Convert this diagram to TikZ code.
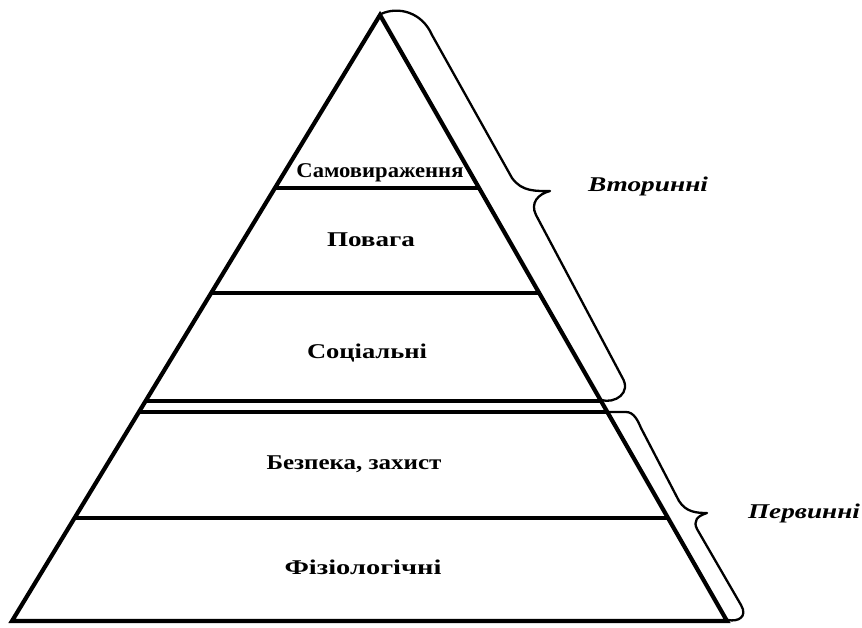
\documentclass[tikz,border=0pt]{standalone}
\usepackage{fontspec}
\setmainfont{Liberation Serif}
\usetikzlibrary{calc}
\newcommand{\fitw}[2]{\resizebox{#1}{\height}{#2}}
\begin{document}
\begin{tikzpicture}[x=1pt,y=-1pt,
  side/.style={line width=4.2pt, line join=miter},
  level/.style={line width=3.3pt},
  brace/.style={line width=2.3pt, line join=round, line cap=round},
  lab/.style={font=\fontsize{21}{24}\selectfont\bfseries, inner sep=0, anchor=base},
  sidelab/.style={font=\fontsize{21}{24}\selectfont\bfseries\itshape, inner sep=0, anchor=base}]
\useasboundingbox (0,0) rectangle (862,628);
\coordinate (A) at (380,15);
\coordinate (L) at (12,621);
\coordinate (R) at (727,621);
% levels
\foreach \t in {0.2855,0.4587,0.637,0.655,0.830}
  \draw[level] ($(A)!\t!(L)$) -- ($(A)!\t!(R)$);
\draw[side] (L) -- (A) -- (R) -- cycle;
% upper brace
\coordinate (ub0) at (381,14);
\coordinate (ub1) at (432,35);
\coordinate (ub2) at (512,178);
\coordinate (ubt) at (550,191);
\coordinate (ub3) at (536,215);
\coordinate (ub4) at (622,377);
\coordinate (ub5) at (601,400);
\draw[brace] (ub0) .. controls (398,6) and (422,12) .. (ub1) -- (ub2)
  .. controls (522,192) and (536,191) .. (ubt)
  .. controls (538,194) and (530,203) .. (ub3) -- (ub4)
  .. controls (632,393) and (615,404) .. (ub5);
% lower brace
\coordinate (lb0) at (603,412);
\coordinate (lb1) at (626,412);
\coordinate (lb2) at (641,428);
\coordinate (lb3) at (679,501);
\coordinate (lbt) at (707,513);
\coordinate (lb4) at (697,529);
\coordinate (lb5) at (741,605);
\coordinate (lb6) at (728,620);
\draw[brace] (lb0) -- (lb1) .. controls (634,412) and (638,421) .. (lb2) -- (lb3)
  .. controls (686,512) and (696,513) .. (lbt)
  .. controls (697,516) and (693,521) .. (lb4) -- (lb5)
  .. controls (748,617) and (738,622) .. (lb6);
% labels
\node[lab] (n1) at (380,178) {\fitw{167pt}{Самовираження}};
\node[lab] (n2) at (371,247) {\fitw{88pt}{Повага}};
\node[lab] (n3) at (367,358) {\fitw{120pt}{Соціальні}};
\node[lab] (n4) at (354,469) {\fitw{175pt}{Безпека, захист}};
\node[lab] (n5) at (363,574) {\fitw{157pt}{Фізіологічні}};
\node[sidelab] (s1) at (648,192) {\fitw{120pt}{Вторинні}};
\node[sidelab] (s2) at (804,518) {\fitw{112pt}{Первинні}};
\end{tikzpicture}
\end{document}
